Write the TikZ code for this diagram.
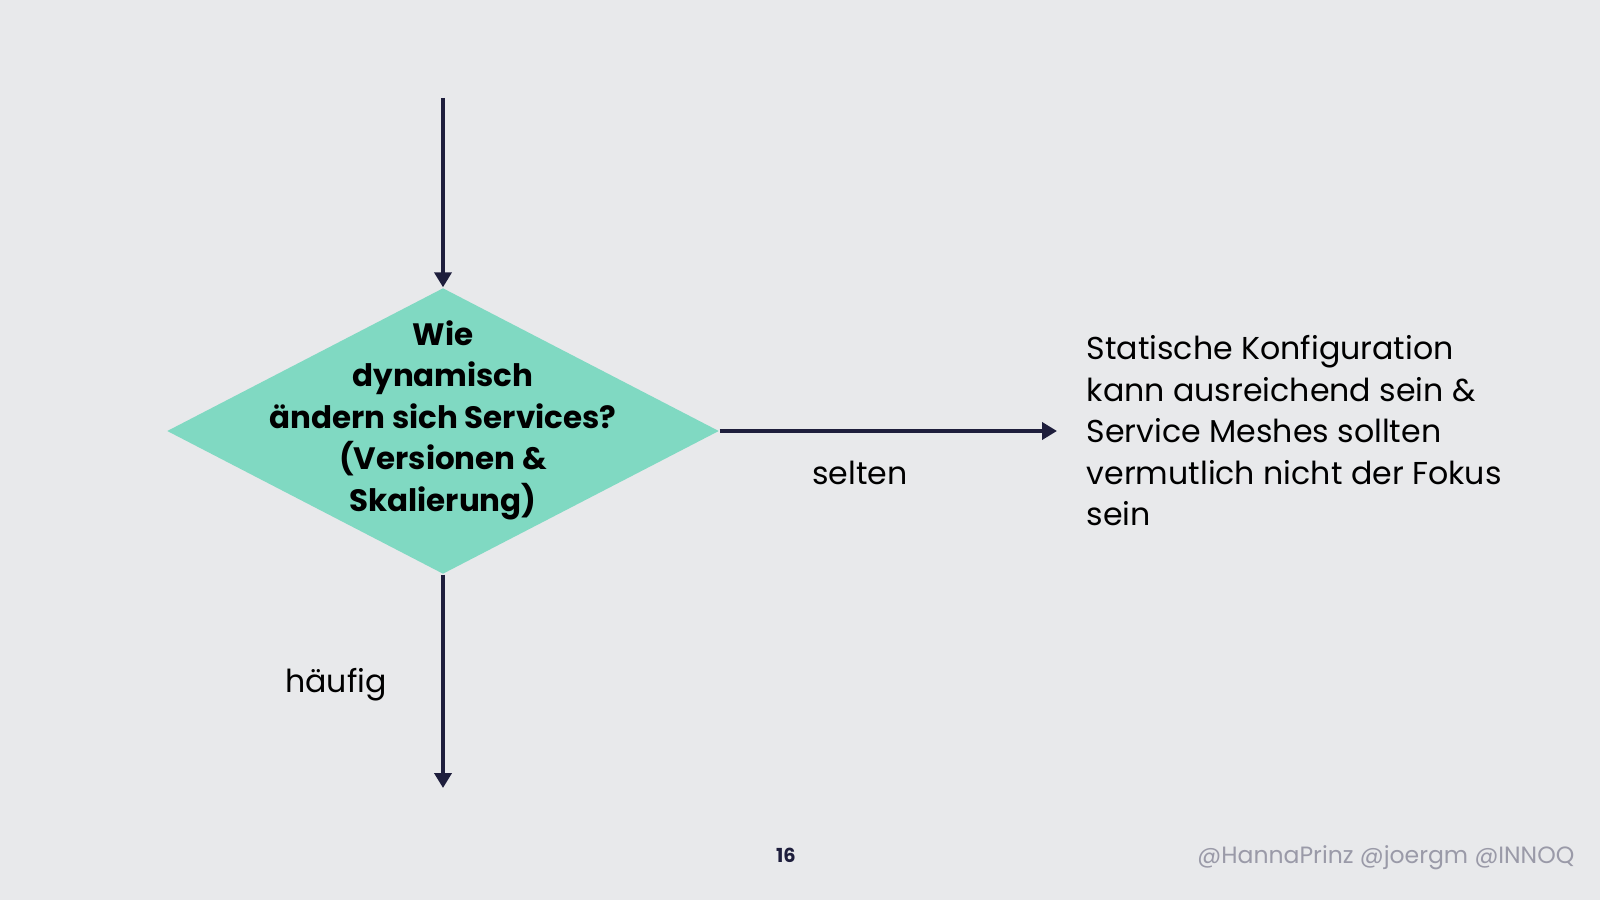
\documentclass[tikz,border=0pt]{standalone}
\usepackage{fontspec}
\setmainfont{Poppins}
\usetikzlibrary{arrows.meta, positioning, shapes.geometric}
\definecolor{bgcol}{HTML}{E8E9EB}
\definecolor{navy}{HTML}{1E1E3C}
\definecolor{mint}{HTML}{80D9C2}
\definecolor{footgray}{HTML}{9A9AA8}

\begin{document}
\begin{tikzpicture}[
  font=\fontsize{9}{11.8}\selectfont,
  decision/.style={diamond, fill=mint, minimum width=5.52cm, minimum height=2.86cm, inner sep=0pt},
  qtext/.style={align=center, inner sep=0pt, font=\fontsize{8.8}{11.8}\selectfont\bfseries},
  lbl/.style={inner sep=0pt, text=black},
  arr/.style={-{Triangle[length=0.15cm, width=0.17cm]}, line width=1.1pt, draw=navy},
]
\fill[bgcol] (0,0) rectangle (16,9);
\useasboundingbox (0,0) rectangle (16,9);

% Decision
\node[decision] (dec) at (4.43, 4.69) {};
\node[qtext] (question) at (4.43, 4.80) {Wie\\dynamisch\\ändern sich Services?\\(Versionen \&\\Skalierung)};

% Arrow ends
\coordinate (entry) at (4.43, 8.02);
\coordinate (often) at (4.43, 1.12);
\coordinate (rare) at (10.57, 4.69);

% Arrows
\draw[arr] (entry) -- (dec.north);
\draw[arr] (dec.south) -- (often);
\draw[arr] (dec.east) -- (rare);

% Labels
\node[lbl] (selten) at (8.60, 4.27) {selten};
\node[lbl] (haeufig) at (3.36, 2.15) {häufig};
\node[lbl, anchor=west, align=left] (result) at (10.86, 4.69) {Statische Konfiguration\\kann ausreichend sein \&\\Service Meshes sollten\\vermutlich nicht der Fokus\\sein};

% Footer
\node[lbl, text=navy, font=\fontsize{5.5}{6}\selectfont\bfseries] (page) at (7.86, 0.45) {16};
\node[lbl, text=footgray, anchor=east, font=\fontsize{6.7}{8}\selectfont] (credits) at (15.75, 0.42) {@HannaPrinz @joergm @INNOQ};
\end{tikzpicture}
\end{document}
